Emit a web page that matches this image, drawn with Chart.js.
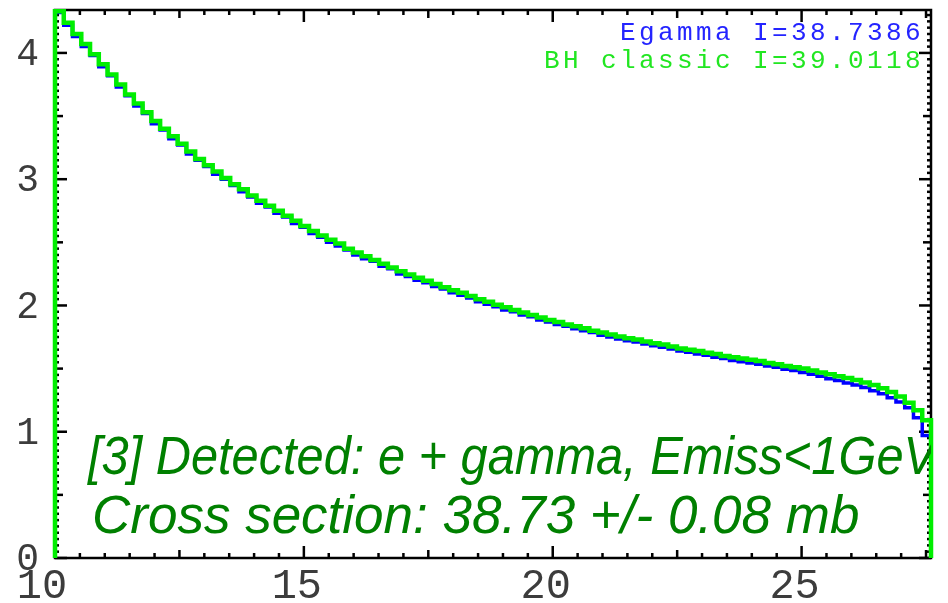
<!DOCTYPE html>
<html><head><meta charset="utf-8">
<script src="https://cdn.jsdelivr.net/npm/chart.js@4"></script>
<style>html,body{margin:0;padding:0;background:#fff}#wrap{width:948px;height:603px;position:relative}</style>
</head><body><div id="wrap"><canvas id="c" width="948" height="603"></canvas></div>
<script>
const xMin = 10, xMax = 27.6, yMax = 4.34;
const bhClassic = [
4.33,4.24,4.15,4.07,3.99,3.91,3.83,3.75,3.67,3.60,
3.53,3.46,3.40,3.34,3.28,3.22,3.16,3.11,3.06,3.01,
2.96,2.92,2.87,2.83,2.79,2.75,2.71,2.67,2.63,2.59,
2.555,2.52,2.49,2.45,2.42,2.39,2.36,2.33,2.30,2.27,
2.245,2.22,2.195,2.17,2.145,2.12,2.10,2.075,2.05,2.03,
2.005,1.985,1.965,1.945,1.925,1.905,1.885,1.87,1.85,1.835,
1.82,1.80,1.785,1.77,1.755,1.74,1.73,1.715,1.70,1.69,
1.675,1.66,1.65,1.64,1.625,1.615,1.60,1.59,1.58,1.57,
1.56,1.545,1.535,1.52,1.51,1.50,1.485,1.47,1.455,1.44,
1.425,1.41,1.39,1.37,1.345,1.315,1.28,1.23,1.17,1.09];
const egamma = [
4.32,4.22,4.13,4.05,3.98,3.89,3.82,3.73,3.66,3.58,
3.52,3.44,3.39,3.32,3.27,3.20,3.15,3.10,3.04,3.00,
2.95,2.90,2.86,2.81,2.78,2.73,2.70,2.65,2.62,2.57,
2.54,2.50,2.47,2.44,2.40,2.37,2.35,2.31,2.29,2.25,
2.23,2.20,2.18,2.15,2.13,2.10,2.08,2.06,2.03,2.01,
1.99,1.965,1.95,1.925,1.91,1.885,1.87,1.85,1.835,1.815,
1.80,1.785,1.765,1.75,1.735,1.72,1.71,1.695,1.68,1.67,
1.655,1.64,1.63,1.615,1.605,1.59,1.58,1.565,1.555,1.545,
1.535,1.52,1.51,1.495,1.485,1.47,1.455,1.44,1.42,1.405,
1.385,1.37,1.35,1.325,1.30,1.27,1.235,1.19,1.11,0.97];
const xTickValues = [10, 15, 20, 25];
const xTickLabels = ['10', '15', '20', '25'];
const yTickValues = [0, 1, 2, 3, 4];
const yTickLabels = ['0', '1', '2', '3', '4'];
const legendLabels = ['Egamma I=38.7386', 'BH classic I=39.0118'];
const notes = ['[3] Detected: e + gamma, Emiss<1GeV', 'Cross section: 38.73 +/- 0.08 mb'];

function histPoints(vals) {
  const w = (xMax - xMin) / vals.length;
  const pts = [{x: xMin, y: 0}];
  vals.forEach((v, i) => pts.push({x: xMin + i * w, y: v}));
  pts.push({x: xMax, y: 0});
  return pts;
}

const rootFrame = {
  id: 'rootFrame',
  beforeDatasetsDraw(chart) {
    const ctx = chart.ctx, a = chart.chartArea, xs = chart.scales.x, ys = chart.scales.y;
    ctx.save();
    ctx.strokeStyle = '#000'; ctx.lineWidth = 2.5; ctx.lineCap = 'butt';
    ctx.strokeRect(a.left, a.top, a.right - a.left, a.bottom - a.top);
    const seg = (x1, y1, x2, y2) => { ctx.beginPath(); ctx.moveTo(x1, y1); ctx.lineTo(x2, y2); ctx.stroke(); };
    for (let k = 0; k <= 35; k++) {
      const v = 10 + k * 0.5; if (v > xMax) break;
      const px = xs.getPixelForValue(v);
      const len = k % 10 === 0 ? 12 : (k % 5 === 0 ? 8 : 5);
      seg(px, a.bottom, px, a.bottom - len);
      seg(px, a.top, px, a.top + len);
    }
    for (let k = 0; k <= 86; k++) {
      const v = k * 0.05; if (v > yMax) break;
      const py = ys.getPixelForValue(v);
      const len = k % 20 === 0 ? 12 : (k % 10 === 0 ? 8 : 4);
      seg(a.left, py, a.left + len, py);
      seg(a.right, py, a.right - len, py);
    }
    ctx.restore();
  },
  afterDraw(chart) {
    const ctx = chart.ctx, a = chart.chartArea, xs = chart.scales.x, ys = chart.scales.y;
    ctx.save();
    ctx.fillStyle = '#3c3c3c';
    ctx.font = '42px "Liberation Mono", "DejaVu Sans Mono", monospace';
    ctx.textAlign = 'center'; ctx.textBaseline = 'alphabetic';
    xTickValues.forEach((v, i) => {
      ctx.fillText(xTickLabels[i], xs.getPixelForValue(v) - (i === 0 ? 13 : 7), 598);
    });
    ctx.font = '38px "Liberation Mono", "DejaVu Sans Mono", monospace';
    ctx.textAlign = 'right'; ctx.textBaseline = 'middle';
    yTickValues.forEach((v, i) => {
      ctx.fillText(yTickLabels[i], 39, ys.getPixelForValue(v) + 2);
    });
    // legend texts
    ctx.font = '26px "Liberation Mono", "DejaVu Sans Mono", monospace';
    ctx.letterSpacing = '3.4px';
    ctx.textAlign = 'right'; ctx.textBaseline = 'alphabetic';
    ctx.fillStyle = '#2424ff';
    ctx.fillText(legendLabels[0], 924, 40);
    ctx.fillStyle = '#22e622';
    ctx.fillText(legendLabels[1], 924, 68);
    ctx.letterSpacing = '0px';
    // notes
    ctx.beginPath(); ctx.rect(a.left, a.top, a.right - a.left, a.bottom - a.top); ctx.clip();
    ctx.fillStyle = '#008000';
    ctx.font = 'italic 53px "Liberation Sans", Arial, sans-serif';
    ctx.textAlign = 'left';
    ctx.fillText(notes[0], 88, 474, 848);
    ctx.fillText(notes[1], 92, 533);
    ctx.restore();
  }
};

new Chart(document.getElementById('c'), {
  type: 'line',
  data: {
    datasets: [
      {label: 'BH classic', data: histPoints(bhClassic), borderColor: '#00ee00', borderWidth: 4.5,
       stepped: 'before', pointRadius: 0, fill: false, clip: false},
      {label: 'Egamma', data: histPoints(egamma), borderColor: '#0000ff', borderWidth: 3.5,
       stepped: 'before', pointRadius: 0, fill: false, clip: false}
    ]
  },
  options: {
    responsive: false, animation: false, devicePixelRatio: 1,
    layout: {padding: {top: 10, right: 17, left: 0, bottom: 0}},
    plugins: {legend: {display: false}, tooltip: {enabled: false}},
    scales: {
      x: {type: 'linear', min: xMin, max: xMax, grid: {display: false}, border: {display: false},
          ticks: {display: false}, afterFit: s => { s.height = 45; }},
      y: {type: 'linear', min: 0, max: yMax, grid: {display: false}, border: {display: false},
          ticks: {display: false}, afterFit: s => { s.width = 55; }}
    }
  },
  plugins: [rootFrame]
});
</script>
</body></html>
